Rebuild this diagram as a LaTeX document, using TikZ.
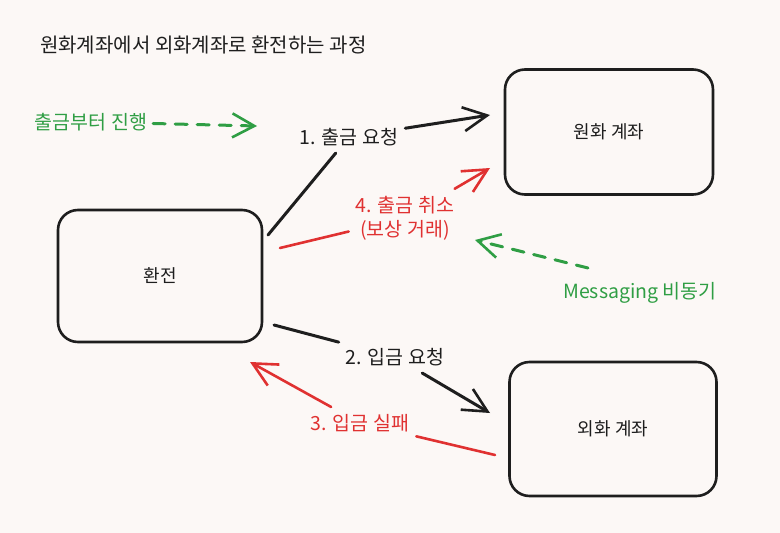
\documentclass[tikz,border=0pt]{standalone}
\usepackage{fontspec}
\setmainfont{Noto Sans CJK KR}
\usetikzlibrary{arrows.meta}
\definecolor{inkblack}{HTML}{1E1E1E}
\definecolor{inkred}{HTML}{E03131}
\definecolor{inkgreen}{HTML}{2F9E44}
\definecolor{paper}{HTML}{FCF8F6}
\tikzset{
  account/.style={draw=inkblack, line width=2.6pt, rounded corners=20pt, font=\fontsize{18}{22}\selectfont, text=inkblack},
  steplabel/.style={font=\fontsize{19.5}{24}\selectfont, inner sep=7pt, align=center},
  note/.style={font=\fontsize{19.5}{24}\selectfont, text=inkgreen, inner sep=6pt},
  flow/.style={line width=3pt, inkblack, line cap=round},
  backflow/.style={line width=2.6pt, inkred, line cap=round},
  tip/.style={-{Straight Barb[length=24pt,width=24pt,line width=2.6pt]}},
  hint/.style={line width=3pt, inkgreen, dash pattern=on 12pt off 10pt, line cap=round,
    -{Straight Barb[length=22pt,width=24pt,line width=2.6pt]}}
}
\begin{document}
\begin{tikzpicture}[x=1pt,y=-1pt]
  \fill[paper] (0,0) rectangle (780,533);
  \useasboundingbox (0,0) rectangle (780,533);
  \node[anchor=west, font=\fontsize{20}{24}\selectfont, text=inkblack, inner sep=0pt] (title) at (40,45) {원화계좌에서 외화계좌로 환전하는 과정};
  % accounts
  \node[account, minimum width=204pt, minimum height=132pt] (hwan) at (160,276) {환전};
  \node[account, minimum width=208pt, minimum height=125pt] (won) at (609,132) {원화 계좌};
  \node[account, minimum width=207pt, minimum height=134pt] (oe) at (613,429) {외화 계좌};
  % step labels
  \node[steplabel, text=inkblack] (l1) at (349,137) {1. 출금 요청};
  \node[steplabel, text=inkblack] (l2) at (395,357) {2. 입금 요청};
  \node[steplabel, text=inkred] (l3) at (360,423) {3. 입금 실패};
  \node[steplabel, text=inkred] (l4) at (405,218) {4. 출금 취소\\(보상 거래)};
  \coordinate (a1s) at (268,235);
  \coordinate (a1e) at (490,115);
  \coordinate (a2s) at (274,325);
  \coordinate (a2e) at (490,413);
  \coordinate (a3s) at (495,455);
  \coordinate (a3e) at (250,362);
  \coordinate (a4s) at (280,248);
  \coordinate (a4e) at (490,168);
  \draw[flow] (a1s) -- (l1);
  \draw[flow, tip] (l1) -- (a1e);
  \draw[flow] (a2s) -- (l2);
  \draw[flow, tip] (l2) -- (a2e);
  \draw[backflow] (a3s) -- (l3);
  \draw[backflow, tip] (l3) -- (a3e);
  \draw[backflow] (a4s) -- (l4);
  \draw[backflow, tip] (l4) -- (a4e);
  % notes
  \node[note] (n1) at (91,122) {출금부터 진행};
  \node[note] (n2) at (640,293) {Messaging 비동기};
  \coordinate (h1e) at (257,126);
  \coordinate (h2s) at (588,268);
  \coordinate (h2e) at (475,240);
  \draw[hint] (n1) -- (h1e);
  \draw[hint] (h2s) -- (h2e);
\end{tikzpicture}
\end{document}
